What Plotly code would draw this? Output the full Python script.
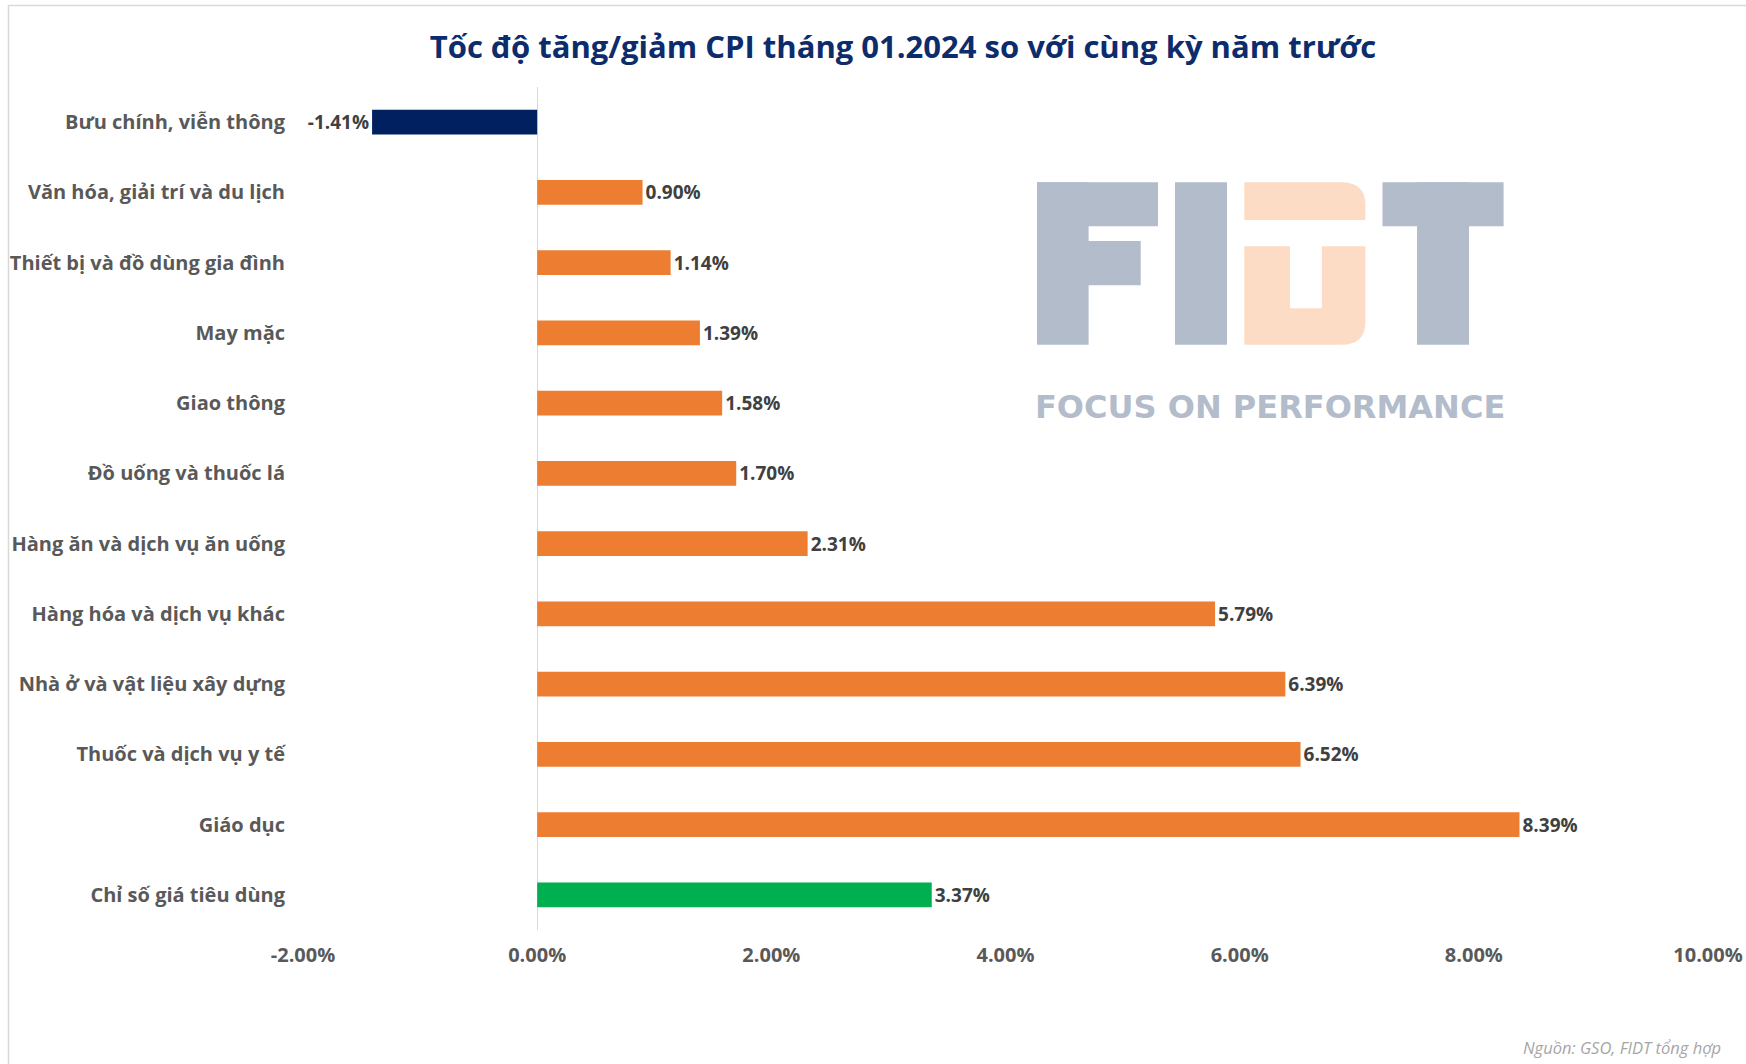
import plotly.graph_objects as go

# ---- data ----
categories = [
    "Bưu chính, viễn thông",
    "Văn hóa, giải trí và du lịch",
    "Thiết bị và đồ dùng gia đình",
    "May mặc",
    "Giao thông",
    "Đồ uống và thuốc lá",
    "Hàng ăn và dịch vụ ăn uống",
    "Hàng hóa và dịch vụ khác",
    "Nhà ở và vật liệu xây dựng",
    "Thuốc và dịch vụ y tế",
    "Giáo dục",
    "Chỉ số giá tiêu dùng",
]
values = [-1.41, 0.90, 1.14, 1.39, 1.58, 1.70, 2.31, 5.79, 6.39, 6.52, 8.39, 3.37]
bar_colors = ["#002060"] + ["#ED7D31"] * 10 + ["#00B050"]
tick_vals = [-2, 0, 2, 4, 6, 8, 10]
tick_text = ["-2.00%", "0.00%", "2.00%", "4.00%", "6.00%", "8.00%", "10.00%"]
title_text = "Tốc độ tăng/giảm CPI tháng 01.2024 so với cùng kỳ năm trước"
source_text = "Nguồn: GSO, FIDT tổng hợp"

# ---- geometry (pixels) ----
W, H = 1746, 1064
L, R, T, B = 303, 38, 87, 134
PW, PH = W - L - R, H - T - B


def px(X):
    return (X - L) / PW


def py(Y):
    return 1 - (Y - T) / PH


FONT = "Open Sans"

fig = go.Figure(
    go.Bar(
        x=values,
        y=categories,
        orientation="h",
        marker=dict(color=bar_colors, line=dict(width=0)),
        width=0.35,
        text=[f"{v:.2f}%" for v in values],
        textposition="outside",
        constraintext="none",
        textfont=dict(family=FONT, size=19, color="#404040", weight="bold"),
        cliponaxis=False,
        hoverinfo="skip",
    )
)

shapes = []
# outer border
shapes.append(dict(type="rect", xref="paper", yref="paper",
                   x0=px(8.5), x1=px(W + 10), y0=py(H + 10), y1=py(5.5),
                   line=dict(color="#D9D9D9", width=1.5), fillcolor="rgba(0,0,0,0)",
                   layer="below"))

# FIDT watermark logo
grey = "#B2BCCB"
peach = "#FDDCC5"


def rect(x0, y0, x1, y1, color):
    return dict(type="rect", xref="paper", yref="paper",
                x0=px(x0), x1=px(x1), y0=py(y1), y1=py(y0),
                line=dict(width=0), fillcolor=color, layer="below")


def path(points, color):
    d = ""
    for i, p in enumerate(points):
        if p[0] == "Q":
            d += f" Q {px(p[1])},{py(p[2])} {px(p[3])},{py(p[4])}"
        else:
            d += (" M " if i == 0 else " L ") + f"{px(p[0])},{py(p[1])}"
    d += " Z"
    return dict(type="path", xref="paper", yref="paper", path=d,
                line=dict(width=0), fillcolor=color, layer="below")


top, bot = 182.3, 344.7
# F
shapes.append(rect(1037, top, 1088.6, bot, grey))
shapes.append(rect(1037, top, 1158, 226.3, grey))
shapes.append(rect(1037, 241, 1140.7, 285.3, grey))
# I
shapes.append(rect(1175, top, 1227, bot, grey))
# D (peach)
rx, ry = 24, 23
shapes.append(path([(1244.3, top), (1365.4 - rx, top), ("Q", 1365.4, top, 1365.4, top + ry),
                    (1365.4, 220), (1244.3, 220)], peach))
shapes.append(path([(1244.3, 246.3), (1290, 246.3), (1290, 308.3), (1321.8, 308.3),
                    (1321.8, 246.3), (1365.4, 246.3), (1365.4, bot - ry),
                    ("Q", 1365.4, bot, 1365.4 - rx, bot), (1244.3, bot)], peach))
# T
shapes.append(rect(1382.5, top, 1503.6, 226.3, grey))
shapes.append(rect(1417, top, 1469, bot, grey))

annotations = [
    dict(text="FOCUS ON PERFORMANCE", xref="paper", yref="paper",
         x=px(1270), y=py(407), xanchor="center", yanchor="middle", showarrow=False,
         font=dict(family="DejaVu Sans", size=32, color=grey, weight="bold")),
    dict(text=source_text, xref="paper", yref="paper",
         x=px(1723), y=py(1047), xanchor="right", yanchor="middle", showarrow=False,
         font=dict(family=FONT, size=16.5, color="#A6A6A6", style="italic")),
]

fig.update_layout(
    width=W, height=H,
    margin=dict(l=L, r=R, t=T, b=B, autoexpand=False),
    paper_bgcolor="white", plot_bgcolor="white",
    showlegend=False,
    title=dict(text=title_text, xref="container", yref="container",
               x=903 / W, y=1 - 47 / H, xanchor="center", yanchor="middle",
               font=dict(family=FONT, size=31, color="#0D2C6C", weight="bold")),
    xaxis=dict(range=[-2, 10], tickvals=tick_vals, ticktext=tick_text,
               showgrid=False, zeroline=True, zerolinecolor="#D9D9D9", zerolinewidth=1,
               showline=False, ticks="", ticklabelstandoff=11,
               tickfont=dict(family=FONT, size=20, color="#595959", weight="bold")),
    yaxis=dict(autorange="reversed", showgrid=False, zeroline=False, showline=False,
               ticks="", ticklabelstandoff=17,
               tickfont=dict(family=FONT, size=20, color="#595959", weight="bold")),
    shapes=shapes,
    annotations=annotations,
)

fig.write_html(
    "out.html",
    config={"displayModeBar": False},
    post_script="document.body.style.margin='0';document.body.style.overflow='hidden';",
)
